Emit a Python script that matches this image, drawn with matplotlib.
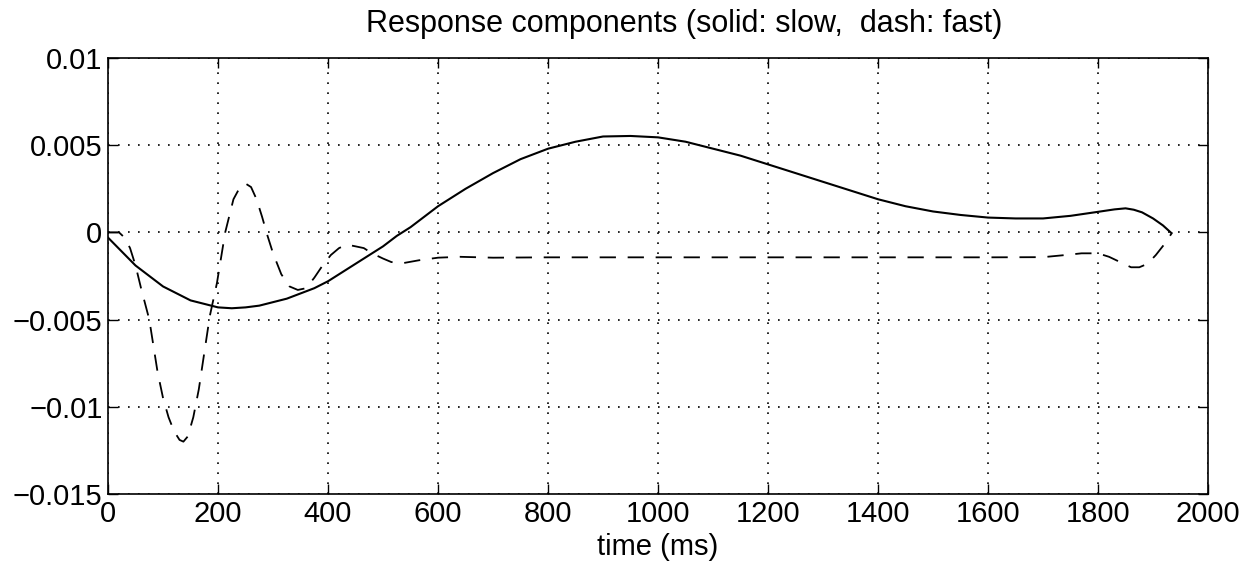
import numpy as np
import matplotlib
matplotlib.use('Agg')
import matplotlib.pyplot as plt

plt.rcParams['font.family'] = ['Liberation Sans', 'DejaVu Sans']

# componente lenta (linha continua)
t_lenta = [0, 25, 50, 75, 100, 125, 150, 175, 200, 225, 250, 275, 300, 325, 350, 375,
           400, 425, 450, 475, 500, 525, 550, 575, 600, 650, 700, 750, 800, 850, 900,
           950, 1000, 1050, 1100, 1150, 1200, 1250, 1300, 1350, 1400, 1450, 1500, 1550,
           1600, 1650, 1700, 1750, 1800, 1830, 1850, 1865, 1880, 1900, 1918, 1932]
y_lenta = [-0.0003, -0.0011, -0.0019, -0.0025, -0.0031, -0.0035, -0.0039, -0.0041,
           -0.0043, -0.00435, -0.0043, -0.0042, -0.0040, -0.0038, -0.0035, -0.0032,
           -0.0028, -0.0023, -0.0018, -0.0013, -0.0008, -0.0002, 0.0003, 0.0009,
           0.0015, 0.0025, 0.0034, 0.0042, 0.0048, 0.0052, 0.0055, 0.00553, 0.00545,
           0.0052, 0.0048, 0.0044, 0.0039, 0.0034, 0.0029, 0.0024, 0.0019, 0.0015,
           0.0012, 0.0010, 0.00085, 0.0008, 0.0008, 0.00095, 0.00118, 0.00132, 0.00138,
           0.0013, 0.00115, 0.0008, 0.0004, 0.0]

# componente rapida (tracejada)
t_rapida = [0, 20, 30, 40, 50, 60, 75, 90, 100, 110, 120, 130, 137, 145, 155, 165, 175,
            185, 198, 213, 228, 240, 250, 260, 270, 280, 290, 300, 315, 330, 345, 360,
            375, 390, 405, 420, 434, 450, 465, 480, 500, 515, 535, 565, 600, 640, 700,
            800, 900, 1000, 1200, 1400, 1600, 1700, 1740, 1770, 1800, 1820, 1840, 1860,
            1875, 1890, 1905, 1920, 1935]
y_rapida = [0.0, 0.0, -0.0003, -0.0009, -0.0019, -0.0032, -0.0050, -0.0080, -0.0095,
            -0.0106, -0.0114, -0.0119, -0.0120, -0.0117, -0.0106, -0.0090, -0.0069,
            -0.0048, -0.0029, 0.0, 0.0019, 0.0026, 0.0028, 0.0026, 0.0019, 0.0009,
            -0.0002, -0.0012, -0.0024, -0.0031, -0.0033, -0.0032, -0.0026, -0.0019,
            -0.0013, -0.0009, -0.0007, -0.0008, -0.0009, -0.0012, -0.0015, -0.0017,
            -0.00177, -0.0016, -0.00145, -0.0014, -0.00145, -0.00143, -0.00143,
            -0.00143, -0.00143, -0.00143, -0.00143, -0.00142, -0.0013, -0.0012,
            -0.0012, -0.0014, -0.0017, -0.0020, -0.0020, -0.0018, -0.0013, -0.0007, 0.0]

xticks = [0, 200, 400, 600, 800, 1000, 1200, 1400, 1600, 1800, 2000]
yticks = [-0.015, -0.01, -0.005, 0, 0.005, 0.01]
ytick_labels = ['\u22120.015', '\u22120.01', '\u22120.005', '0', '0.005', '0.01']

fig = plt.figure(figsize=(12.52, 5.71), dpi=100)
ax = fig.add_axes([0.0863, 0.1349, 0.8786, 0.7635])

ax.plot(t_lenta, y_lenta, color='black', lw=1.5)
ax.plot(t_rapida, y_rapida, color='black', lw=1.3, dashes=(9, 6.5))

ax.set_xlim(0, 2000)
ax.set_ylim(-0.015, 0.01)
ax.set_xticks(xticks)
ax.set_yticks(yticks)
ax.set_yticklabels(ytick_labels)
ax.tick_params(direction='in', length=7, width=1, labelsize=21, top=True, right=True, pad=4)
ax.grid(True, color='black', linestyle=(0, (1, 5)), linewidth=1.2)
for s in ax.spines.values():
    s.set_linewidth(1.2)

ax.set_title('Response components (solid: slow,  dash: fast)', fontsize=22, pad=19, x=0.524)
ax.set_xlabel('time (ms)', fontsize=21, labelpad=4)

fig.savefig('out.png', dpi=100)
